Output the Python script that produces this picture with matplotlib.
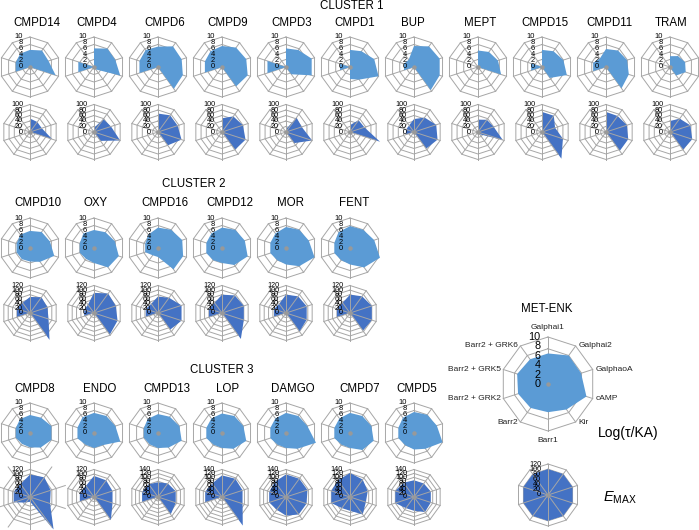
import matplotlib
matplotlib.use('Agg')
import matplotlib.pyplot as plt
import numpy as np

plt.rcParams['font.family'] = ['Liberation Sans', 'DejaVu Sans']
plt.rcParams['mathtext.fontset'] = 'custom'
plt.rcParams['mathtext.it'] = 'Liberation Sans:italic'
plt.rcParams['mathtext.rm'] = 'Liberation Sans'

# ---------------- data ----------------
spokes = ['Galphai1', 'Galphai2', 'GalphaoA', 'cAMP', 'Kir', 'Barr1', 'Barr2',
          'Barr2 + GRK2', 'Barr2 + GRK5', 'Barr2 + GRK6']

cluster1 = ['CMPD14', 'CMPD4', 'CMPD6', 'CMPD9', 'CMPD3', 'CMPD1', 'BUP', 'MEPT',
            'CMPD15', 'CMPD11', 'TRAM']
cluster2 = ['CMPD10', 'OXY', 'CMPD16', 'CMPD12', 'MOR', 'FENT']
cluster3 = ['CMPD8', 'ENDO', 'CMPD13', 'LOP', 'DAMGO', 'CMPD7', 'CMPD5']

# Log(tau/KA) values (order of spokes)
CMPD14_log = [5.7, 6.8, 6.5, 9.0, 0, 0, 0, 5.0, 5.0, 5.5]
CMPD4_log = [6.2, 7.6, 7.5, 9.2, 1.0, 0, 0, 5.5, 5.5, 0]
CMPD6_log = [6.8, 8.5, 8.3, 8.7, 9.0, 0, 0, 6.5, 6.5, 7.0]
CMPD9_log = [7.0, 8.0, 8.5, 9.0, 8.0, 0, 0, 6.0, 6.0, 6.5]
CMPD3_log = [6.2, 7.0, 9.0, 9.0, 3.0, 0, 0, 6.5, 6.5, 0]
CMPD1_log = [5.7, 6.5, 8.5, 10.0, 5.2, 4.0, 0, 3.5, 3.5, 0]
BUP_log = [7.0, 8.5, 9.0, 9.0, 9.5, 0, 0, 3.5, 3.5, 3.0]
MEPT_log = [5.5, 6.2, 7.0, 8.1, 0, 0, 0, 0, 0, 0]
CMPD15_log = [5.7, 6.5, 7.5, 8.7, 4.5, 0, 0, 3.8, 3.8, 0]
CMPD11_log = [6.0, 6.8, 7.4, 8.0, 8.8, 0, 0, 4.5, 4.5, 3.5]
TRAM_log = [3.6, 4.5, 5.3, 5.5, 3.5, 0, 0, 0, 0, 0]

CMPD10_log = [5.7, 6.6, 7.0, 8.5, 5.7, 4.5, 4.6, 4.7, 4.7, 5.5]
OXY_log = [6.0, 6.5, 7.3, 8.7, 8.0, 5.0, 4.5, 5.0, 5.0, 6.0]
CMPD16_log = [6.8, 7.5, 8.5, 8.8, 8.8, 3.0, 3.0, 4.5, 4.5, 5.5]
CMPD12_log = [6.8, 7.5, 8.0, 9.0, 7.0, 5.0, 5.0, 5.5, 5.5, 6.0]
MOR_log = [7.0, 7.5, 8.0, 10.0, 7.5, 5.5, 5.0, 5.5, 5.5, 6.0]
FENT_log = [7.3, 7.5, 8.5, 10.5, 8.0, 5.5, 5.0, 5.5, 5.5, 6.5]

CMPD8_log = [6.0, 6.3, 7.5, 7.5, 6.0, 4.8, 4.5, 5.0, 5.0, 5.7]
ENDO_log = [6.7, 7.0, 7.5, 9.2, 5.0, 5.0, 4.8, 5.8, 5.8, 6.5]
CMPD13_log = [6.3, 6.7, 7.5, 8.3, 6.0, 5.0, 4.7, 5.0, 5.0, 5.8]
LOP_log = [6.5, 7.0, 7.5, 8.5, 6.5, 5.0, 4.8, 5.5, 5.5, 6.0]
DAMGO_log = [6.7, 7.0, 7.5, 10.5, 6.5, 5.0, 4.8, 5.5, 5.5, 6.0]
CMPD7_log = [6.7, 7.0, 7.5, 8.3, 7.0, 5.0, 4.8, 5.5, 5.5, 6.0]
CMPD5_log = [7.0, 7.5, 8.0, 10.0, 6.5, 5.5, 5.0, 5.5, 5.5, 6.3]

METENK_log = [6.5, 7.5, 7.4, 8.6, 6.7, 6.0, 6.3, 6.7, 6.9, 6.5]

# EMAX values (order of spokes)
CMPD14_emax = [49, 45, 45, 85, 0, 0, 0, 0, 0, 0]
CMPD4_emax = [15, 58, 65, 100, 40, 0, 0, 0, 0, 0]
CMPD6_emax = [67, 75, 75, 90, 60, 0, 0, 0, 0, 0]
CMPD9_emax = [50, 70, 80, 90, 80, 0, 0, 0, 0, 0]
CMPD3_emax = [10, 65, 60, 100, 50, 0, 0, 0, 0, 0]
CMPD1_emax = [25, 53, 55, 115, 0, 0, 0, 0, 0, 0]
BUP_emax = [47, 65, 85, 90, 75, 0, 0, 30, 30, 30]
MEPT_emax = [45, 55, 60, 95, 10, 0, 0, 0, 0, 0]
CMPD15_emax = [73, 73, 50, 80, 120, 0, 0, 0, 0, 0]
CMPD11_emax = [73, 72, 80, 85, 85, 0, 0, 0, 0, 0]
TRAM_emax = [40, 60, 78, 85, 80, 0, 0, 0, 0, 0]

CMPD10_emax = [70, 85, 80, 85, 145, 0, 0, 60, 60, 55]
OXY_emax = [88, 105, 100, 108, 117, 0, 0, 45, 45, 45]
CMPD16_emax = [72, 82, 108, 108, 90, 0, 0, 56, 56, 50]
CMPD12_emax = [80, 95, 100, 100, 140, 0, 0, 60, 60, 55]
MOR_emax = [80, 90, 95, 95, 100, 0, 0, 55, 55, 50]
FENT_emax = [80, 90, 100, 100, 96, 0, 0, 60, 60, 55]

CMPD8_emax = [98, 106, 95, 92, 175, 20, 30, 75, 75, 70]
ENDO_emax = [92, 90, 85, 85, 125, 0, 0, 65, 65, 60]
CMPD13_emax = [75, 85, 95, 95, 110, 0, 0, 85, 85, 80]
LOP_emax = [110, 115, 110, 110, 180, 0, 0, 90, 90, 85]
DAMGO_emax = [115, 115, 115, 110, 110, 95, 80, 90, 90, 95]
CMPD7_emax = [122, 110, 95, 85, 110, 70, 70, 100, 100, 105]
CMPD5_emax = [85, 85, 90, 90, 95, 70, 70, 100, 100, 90]

METENK_emax = [100, 100, 100, 100, 100, 100, 100, 100, 100, 100]

# axis maxima for EMAX panels
emax_axis_c1 = 100
emax_axis_c2 = 120
emax_axis_c3 = [120, 120, 140, 140, 140, 140, 140]
emax_axis_metenk = 120
log_axis = 10

data = {k: (globals()[k + '_log'], globals()[k + '_emax']) for k in cluster1 + cluster2 + cluster3}

# ---------------- drawing ----------------
W, H = 699, 530
fig = plt.figure(figsize=(W / 100, H / 100), dpi=100)

TOP_C = '#5b9bd5'
BOT_C = '#4472c4'
GRID_C = '#a6a6a6'

theta = np.linspace(0, 2 * np.pi, len(spokes), endpoint=False)
theta_c = np.append(theta, theta[0])

spoke_ext = {'CMPD8': 1.35}


def radar(cx, cy, R, vals, vmax, ring_step, lab_step, color, fs, spokes_over,
          lab_dx=5.0, cat=False, ext=1.0):
    ax = fig.add_axes([(cx - R) / W, 1 - (cy + R) / H, 2 * R / W, 2 * R / H],
                      projection='polar')
    ax.set_theta_zero_location('N')
    ax.set_theta_direction(-1)
    ax.set_ylim(0, vmax)
    ax.axis('off')
    for r in np.arange(ring_step, vmax + 1e-6, ring_step):
        ax.plot(theta_c, [r] * len(theta_c), color=GRID_C, lw=0.7, zorder=1,
                clip_on=False)
    for t in theta:
        ax.plot([t, t], [0, vmax * ext], color=GRID_C, lw=0.7,
                zorder=3 if spokes_over else 1, clip_on=False)
    v = np.append(vals, vals[0])
    ax.fill(theta_c, v, color=color, lw=0, zorder=2, clip_on=False)
    ax.plot([0], [0], 'o', color='#999999', ms=2.2, zorder=4, clip_on=False)
    for lv in range(0, vmax + 1, lab_step):
        ax.annotate(str(lv), xy=(0, lv), xytext=(-lab_dx, 0),
                    textcoords='offset points', ha='right', va='center',
                    fontsize=fs, color='black', zorder=5, annotation_clip=False)
    if cat:
        for t, name in zip(theta, spokes):
            s, c = np.sin(t), np.cos(t)
            if abs(s) < 0.1:
                ha = 'center'
                va = 'bottom' if c > 0 else 'top'
                off = (0, 4 if c > 0 else -4)
            else:
                ha = 'left' if s > 0 else 'right'
                va = 'center'
                off = (2 if s > 0 else -2, 0)
            ax.annotate(name, xy=(t, vmax), xytext=off, textcoords='offset points',
                        ha=ha, va=va, fontsize=6.0, color='#222222',
                        annotation_clip=False)
    return ax


def ftext(x, y, s, **kw):
    fig.text(x / W, 1 - y / H, s, ha='center', va='center', **kw)


xs = [30, 94, 158, 222, 286, 350, 414, 478, 542, 606, 670]

name_x1 = [37, 97, 165, 228, 292, 355, 413, 480, 545, 609, 671]
name_x2 = [38, 96, 165, 230, 290, 354]
name_x3 = [35, 100, 167, 228, 293, 360, 417]

ftext(352, 6, 'CLUSTER 1', fontsize=8.3)
ftext(194, 184, 'CLUSTER 2', fontsize=8.3)
ftext(222, 370, 'CLUSTER 3', fontsize=8.3)

rows = [
    (cluster1, name_x1, 23, 67, 132, [emax_axis_c1] * len(cluster1)),
    (cluster2, name_x2, 203, 248, 313, [emax_axis_c2] * len(cluster2)),
    (cluster3, name_x3, 389, 433, 497, emax_axis_c3),
]
for names, nx, ny, ty, by, emaxes in rows:
    for i, nm in enumerate(names):
        ftext(nx[i], ny, nm, fontsize=8.3)
        lg, em = data[nm]
        radar(xs[i], ty, 30, lg, log_axis, 2.5, 2, TOP_C, 5.4, False)
        radar(xs[i], by, 27.5, em, emaxes[i], 20, 20, BOT_C, 5.2, True,
              ext=spoke_ext.get(nm, 1.0))

# MET-ENK reference
ftext(547, 309, 'MET-ENK', fontsize=8.3)
radar(548, 384, 47, METENK_log, log_axis, 2.5, 2, TOP_C, 7.8, False, lab_dx=5.5, cat=True)
radar(548, 495, 31, METENK_emax, emax_axis_metenk, 20, 20, BOT_C, 5.2, True)
ftext(628, 433, 'Log(\u03c4/KA)', fontsize=10)
ftext(620, 498, r'$E_{\mathrm{MAX}}$', fontsize=10.5)

fig.savefig('out.png', dpi=100)
